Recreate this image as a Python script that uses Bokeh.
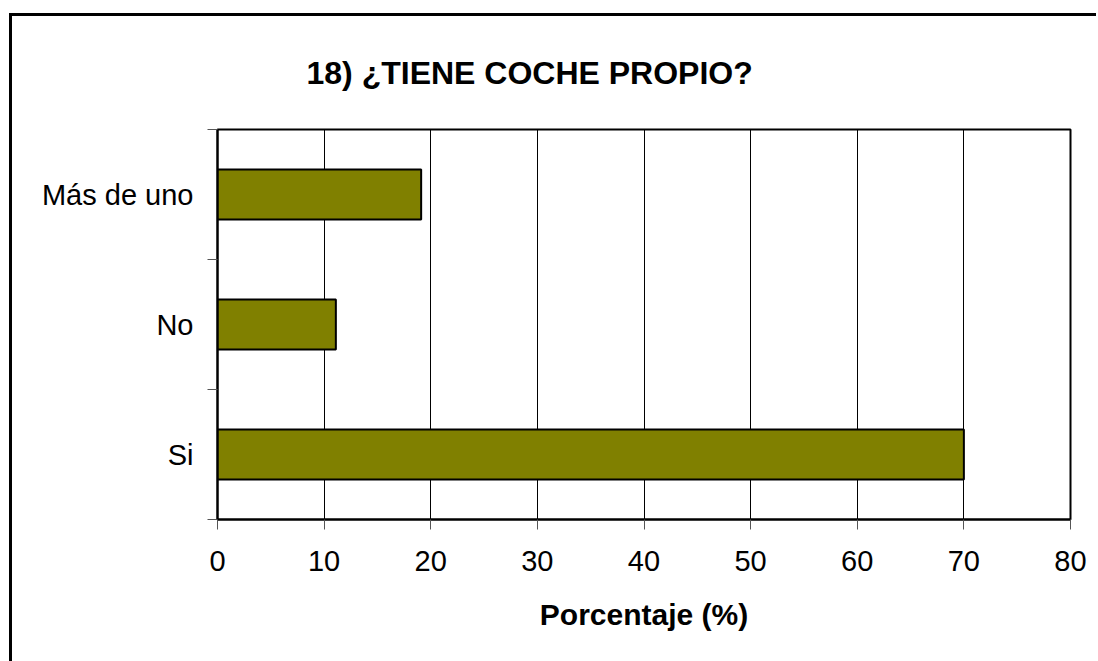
from bokeh.plotting import figure
from bokeh.layouts import column
from bokeh.models import FixedTicker, ColumnDataSource
from bokeh.embed import file_html
from bokeh.resources import INLINE

categories = ["Si", "No", "Más de uno"]
percentages = [70.0, 11.1, 19.1]
x_ticks = [0, 10, 20, 30, 40, 50, 60, 70, 80]
title_text = "18) ¿TIENE COCHE PROPIO?"
x_label = "Porcentaje (%)"

FONT = "Liberation Sans"

ypos = [i + 0.5 for i in range(len(categories))]
src = ColumnDataSource(dict(y=ypos, right=percentages, cat=categories))

p = figure(width=1084, height=645, output_backend="svg", toolbar_location=None,
           x_range=(0, 80), y_range=(0, len(categories)),
           min_border_left=205, min_border_right=26, min_border_top=113, min_border_bottom=142)
p.background_fill_color = "white"
p.border_fill_color = "white"
p.outline_line_color = "black"
p.outline_line_width = 2

# title
p.title.text = title_text
p.title.align = "left"
p.title.offset = 89
p.title.vertical_align = "top"
p.title.standoff = 74
p.title.text_font = FONT
p.title.text_font_style = "bold"
p.title.text_font_size = "32px"
p.title.text_color = "black"

p.hbar(y="y", left=0, right="right", height=0.385, source=src,
       fill_color="#808000", line_color="black", line_width=2)

# grid
p.ygrid.grid_line_color = None
p.xgrid.ticker = FixedTicker(ticks=x_ticks)
p.xgrid.grid_line_color = "black"
p.xgrid.grid_line_width = 1

# x axis
xa = p.xaxis[0]
xa.ticker = FixedTicker(ticks=x_ticks)
xa.axis_line_width = 2
xa.axis_line_color = "black"
xa.major_tick_out = 10
xa.major_tick_in = 0
xa.major_tick_line_color = "#555555"
xa.minor_tick_line_color = None
xa.major_label_text_font = FONT
xa.major_label_text_font_size = "29px"
xa.major_label_text_color = "black"
xa.major_label_standoff = 21
xa.axis_label = x_label
xa.axis_label_text_font = FONT
xa.axis_label_text_font_style = "bold"
xa.axis_label_text_font_size = "30px"
xa.axis_label_text_color = "black"
xa.axis_label_standoff = 24

# y axis
ya = p.yaxis[0]
ya.ticker = FixedTicker(ticks=ypos, minor_ticks=list(range(len(categories) + 1)))
ya.major_label_overrides = {y: c for y, c in zip(ypos, categories)}
ya.axis_line_width = 2
ya.axis_line_color = "black"
ya.major_tick_out = 0
ya.major_tick_in = 0
ya.major_tick_line_color = None
ya.minor_tick_out = 10
ya.minor_tick_in = 0
ya.minor_tick_line_color = "#555555"
ya.minor_tick_line_width = 1
ya.major_label_text_font = FONT
ya.major_label_text_font_size = "29px"
ya.major_label_text_color = "black"
ya.major_label_standoff = 14

layout = column(p, styles={"margin-left": "9px", "margin-top": "13px",
                           "border-left": "3px solid black",
                           "border-top": "3px solid black"})

open("out.html", "w").write(file_html(layout, INLINE))
